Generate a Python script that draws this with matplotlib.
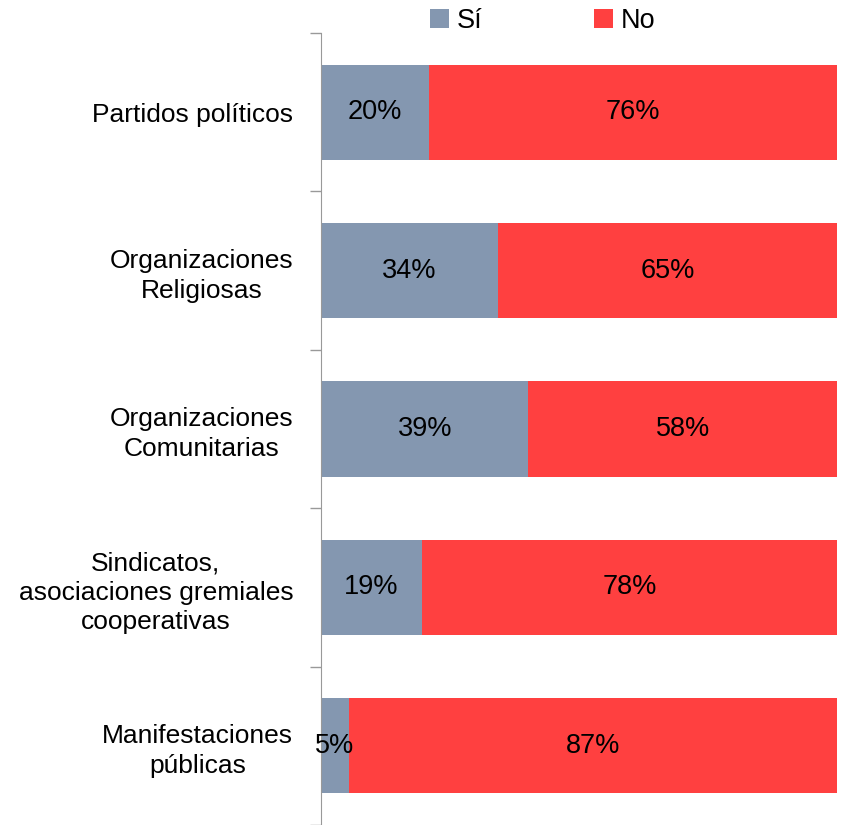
import numpy as np
import matplotlib
matplotlib.use('Agg')
import matplotlib.pyplot as plt

plt.rcParams['font.family'] = ['Liberation Sans', 'DejaVu Sans']

categorias = ['Partidos políticos',
              'Organizaciones\nReligiosas',
              'Organizaciones\nComunitarias',
              'Sindicatos,\nasociaciones gremiales\ncooperativas',
              'Manifestaciones\npúblicas']
si = [20, 34, 39, 19, 5]
no = [76, 65, 58, 78, 87]

col_si = '#8497B0'
col_no = '#FF4040'

fig = plt.figure(figsize=(8.44, 8.25), dpi=100)
ax = fig.add_axes([321/844, 0, 516/844, 1 - 33/825])

si_a = np.array(si, dtype=float)
no_a = np.array(no, dtype=float)
tot = si_a + no_a
si_n = si_a / tot
no_n = no_a / tot
y = np.arange(len(categorias))

b1 = ax.barh(y, si_n, height=0.6, color=col_si, label='Sí')
b2 = ax.barh(y, no_n, left=si_n, height=0.6, color=col_no, label='No')

for i in range(len(y)):
    ax.text(si_n[i] / 2, y[i], f'{si[i]}%', ha='center', va='center', fontsize=19.5)
    ax.text(si_n[i] + no_n[i] / 2, y[i], f'{no[i]}%', ha='center', va='center', fontsize=19.5)

ax.set_ylim(len(y) - 0.5, -0.5)
ax.set_xlim(0, 1)
ax.set_yticks(y)
ax.set_yticklabels(categorias, fontsize=19, multialignment='center', linespacing=1.3)
ax.tick_params(axis='y', which='major', length=0, pad=20)
ax.set_yticks(np.arange(-0.5, len(y)), minor=True)
ax.tick_params(axis='y', which='minor', length=8, color='#999999', width=1)
ax.set_xticks([])
for s in ['top', 'right', 'bottom']:
    ax.spines[s].set_visible(False)
ax.spines['left'].set_color('#999999')

fig.legend(handles=[b1, b2], loc='upper center', bbox_to_anchor=(0.643, 1.02), ncol=2,
           frameon=False, fontsize=19.5, handlelength=0.7, handleheight=0.7,
           handletextpad=0.3, columnspacing=4.1)

fig.savefig('out.png', dpi=100)
